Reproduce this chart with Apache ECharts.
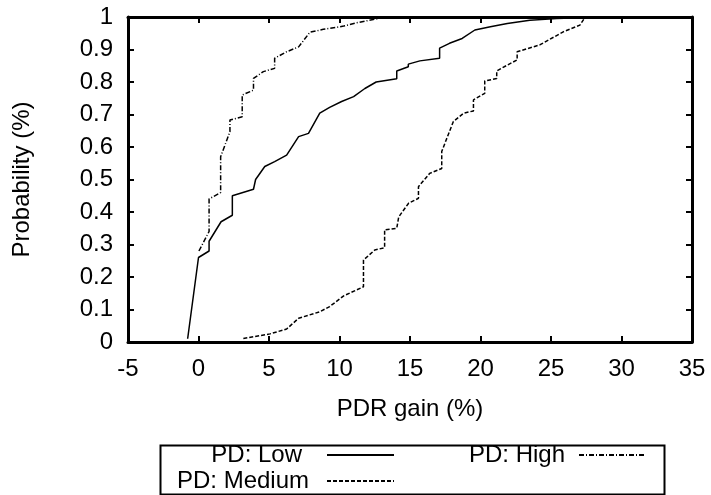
<!DOCTYPE html>
<html>
<head>
<meta charset="utf-8">
<script src="https://cdn.jsdelivr.net/npm/echarts@6/dist/echarts.min.js"></script>
<style>html,body{margin:0;padding:0;background:#fff}#c{width:711px;height:495px}</style>
</head>
<body>
<div id="c"></div>
<script>
var seriesNames = ['PD: Low', 'PD: Medium', 'PD: High'];
var xTicks = [-5, 0, 5, 10, 15, 20, 25, 30, 35];
var yTicks = [0, 0.1, 0.2, 0.3, 0.4, 0.5, 0.6, 0.7, 0.8, 0.9, 1];
var lowPts = [[-0.77,0.01],[0,0.26],[0.75,0.28],[0.75,0.31],[1.6,0.37],[2.4,0.39],[2.4,0.45],[3.9,0.47],[4.05,0.5],[4.7,0.54],[5.4,0.555],[6.25,0.575],[7.1,0.632],[7.8,0.642],[8.6,0.704],[9.3,0.722],[10.15,0.74],[11,0.755],[11.8,0.78],[12.6,0.80],[14.06,0.81],[14.06,0.834],[14.88,0.847],[14.88,0.855],[15.7,0.865],[17.1,0.873],[17.1,0.904],[17.8,0.919],[18.7,0.934],[19.6,0.96],[20.7,0.97],[21.9,0.98],[23.5,0.99],[25.4,0.995],[27,0.998],[28,1]];
var mediumPts = [[3.18,0.011],[5.07,0.025],[6.25,0.04],[7.1,0.073],[8.6,0.093],[9.3,0.109],[10.3,0.142],[11.7,0.17],[11.7,0.252],[12.5,0.283],[13.2,0.29],[13.2,0.345],[14.06,0.35],[14.2,0.385],[14.9,0.427],[15.6,0.442],[15.6,0.478],[16.4,0.519],[17.25,0.534],[17.25,0.586],[18.07,0.678],[18.8,0.704],[19.5,0.711],[19.5,0.745],[20.3,0.765],[20.3,0.803],[21.15,0.811],[21.15,0.834],[21.9,0.852],[22.6,0.868],[22.6,0.893],[24.2,0.914],[25.9,0.955],[27.05,0.975],[27.4,0.998]];
var highPts = [[0.03,0.28],[0.75,0.34],[0.75,0.44],[1.57,0.46],[1.57,0.57],[2.23,0.647],[2.23,0.683],[3.1,0.693],[3.1,0.76],[3.9,0.775],[3.9,0.811],[4.6,0.832],[5.4,0.842],[5.4,0.873],[6.25,0.893],[7.1,0.908],[7.9,0.953],[8.85,0.962],[10.3,0.972],[11.2,0.982],[12.6,0.994],[13.3,1]];

var FONT = 'Liberation Sans';
var FS = 24;
var chart = echarts.init(document.getElementById('c'));
var axisLine = {show: true, onZero: false, lineStyle: {color: '#000', width: 3}};
var tick = {show: true, inside: true, length: 6, lineStyle: {color: '#000', width: 2}};
var lbl = {color: '#000', fontFamily: FONT, fontSize: FS};
function legendFor(name, right, top, gap) {
  return {
    data: [name], right: right, top: top, orient: 'horizontal', align: 'right',
    itemWidth: 67, itemHeight: 14, padding: 0, selectedMode: false,
    itemStyle: {opacity: 0},
    textStyle: {color: '#000', fontFamily: FONT, fontSize: FS, padding: [0, gap, 0, 0]}
  };
}
chart.setOption({
  animation: false,
  backgroundColor: '#fff',
  grid: {left: 128, right: 19, top: 17, bottom: 153, containLabel: false},
  xAxis: [{
    type: 'value', min: -5, max: 35, interval: 5, position: 'bottom',
    name: 'PDR gain (%)', nameLocation: 'middle', nameGap: 55,
    nameTextStyle: {color: '#000', fontFamily: FONT, fontSize: FS},
    axisLine: axisLine, axisTick: tick, splitLine: {show: false},
    axisLabel: Object.assign({margin: 15, formatter: function(v){ return xTicks.indexOf(v) >= 0 ? String(v) : ''; }}, lbl)
  }, {
    type: 'value', min: -5, max: 35, interval: 5, position: 'top',
    axisLine: axisLine, axisTick: tick, splitLine: {show: false}, axisLabel: {show: false}
  }],
  yAxis: [{
    type: 'value', min: 0, max: 1, interval: 0.1, position: 'left',
    name: 'Probability (%)', nameLocation: 'middle', nameGap: 94, nameRotate: 90,
    nameTextStyle: {color: '#000', fontFamily: FONT, fontSize: FS},
    axisLine: axisLine, axisTick: tick, splitLine: {show: false},
    axisLabel: Object.assign({margin: 15, formatter: function(v){ var r = Math.round(v*10)/10; return yTicks.indexOf(r) >= 0 ? String(r) : ''; }}, lbl)
  }, {
    type: 'value', min: 0, max: 1, interval: 0.1, position: 'right',
    axisLine: axisLine, axisTick: tick, splitLine: {show: false}, axisLabel: {show: false}
  }],
  legend: [
    legendFor(seriesNames[0], 316, 443, 20),
    legendFor(seriesNames[1], 316, 469, 13),
    legendFor(seriesNames[2], 64, 443, 9)
  ],
  graphic: [{
    type: 'rect', left: 158, top: 443, shape: {width: 504, height: 49},
    style: {fill: 'none', stroke: '#000', lineWidth: 2}, silent: true
  }],
  series: [{
    name: seriesNames[0], type: 'line', data: lowPts, symbol: 'none',
    lineStyle: {color: '#000', width: 1.5, type: 'solid'}, itemStyle: {color: '#000'}
  }, {
    name: seriesNames[1], type: 'line', data: mediumPts, symbol: 'none',
    lineStyle: {color: '#000', width: 1.5, type: [4, 2]}, itemStyle: {color: '#000'}
  }, {
    name: seriesNames[2], type: 'line', data: highPts, symbol: 'none',
    lineStyle: {color: '#000', width: 1.5, type: [5, 2, 1, 2]}, itemStyle: {color: '#000'}
  }]
});
</script>
</body>
</html>
